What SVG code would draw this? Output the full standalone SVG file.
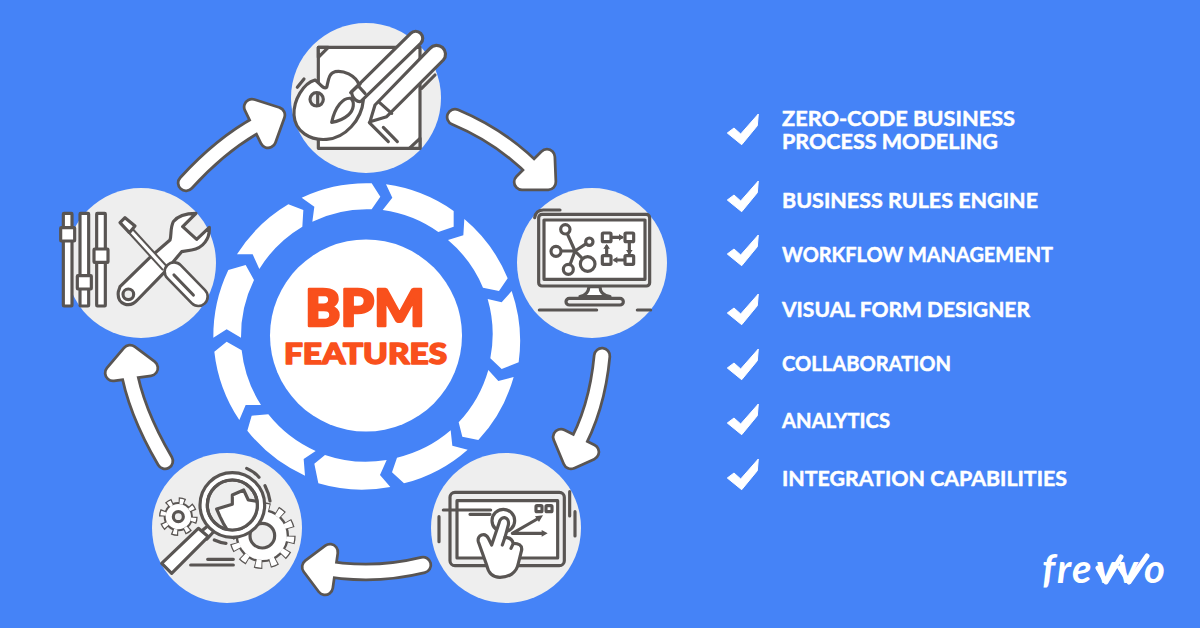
<svg xmlns="http://www.w3.org/2000/svg" xmlns:xlink="http://www.w3.org/1999/xlink" width="1200" height="628" viewBox="0 0 1200 628">
<style>
.disc{fill:#eeeeee}
.ln{stroke:#595553;stroke-width:9.5;stroke-linecap:round;stroke-linejoin:round;fill:none}
.w{fill:#fff}.g{fill:#eeeeee}.dk{fill:#595553;stroke:none}
.ao{stroke:#595553;stroke-width:18.5;stroke-linecap:round;stroke-linejoin:round}
.ai{stroke:#fff;stroke-width:13;stroke-linecap:round;stroke-linejoin:round}
.seg{fill:#fff}
.item{font-family:"Lato","Liberation Sans",sans-serif;font-weight:700;font-size:21px;fill:#fff;stroke:#fff;stroke-width:.5;stroke-linejoin:round}
.head{font-family:"Lato","Liberation Sans",sans-serif;font-weight:900;fill:#f9501c;stroke:#f9501c;stroke-linejoin:round}
</style>
<defs>
<polygon id="chk" points="727.3,19 734,14 740.7,20 758.3,0 757.3,11.7 741.7,30.7" fill="#fff" stroke="#fff" stroke-width="1" stroke-linejoin="round"/>
<g id="a1" fill="#fff"><path fill="none" d="M455 117 Q505 138 540 176"/><path d="M547 157 L548 182 L522 182 Z"/></g>
<g id="a2" fill="#fff"><path fill="none" d="M602 356 Q597 410 574 450"/><path d="M561 437 L571 461 L591 452 Z"/></g>
<g id="a3" fill="#fff"><path fill="none" d="M423 565 Q370 578 318 567"/><path d="M330 552 L310 567 L325 587 Z"/></g>
<g id="a4" fill="#fff"><path fill="none" d="M165 461 Q135 410 128 366"/><path d="M130 353 L113 373 L150 368 Z"/></g>
<g id="a5" fill="#fff"><path fill="none" d="M186 183 Q225 140 268 119"/><path d="M277 115 L252 107 L268 140 Z"/></g>
<clipPath id="lens"><circle cx="262" cy="180" r="75"/></clipPath>
</defs>
<rect width="1200" height="628" fill="#4583f7"/>

<g id="ring" transform="translate(205 175) scale(.33333)">
<path class="seg" d="M290 68A459 459 0 0 1 500 25L526 65L500 103A378 378 0 0 0 322 140L328 95Z"/>
<path class="seg" d="M543 28A459 459 0 0 1 746 108L746 155L700 171A378 378 0 0 0 533 105L562 68Z"/>
<path class="seg" d="M778 132A459 459 0 0 1 908 310L882 348L834 338A378 378 0 0 0 729 195L775 181Z"/>
<path class="seg" d="M920 348A459 459 0 0 1 941 562L890 582L856 550A378 378 0 0 0 848 372L890 382Z"/>
<path class="seg" d="M926 606A459 459 0 0 1 820 795L772 785L761 742A378 378 0 0 0 850 585L880 618Z"/>
<path class="seg" d="M788 824A459 459 0 0 1 597 925L561 892L576 848A378 378 0 0 0 737 766L742 812Z"/>
<path class="seg" d="M360 840A378 378 0 0 0 545 855L525 900L556 936A459 459 0 0 1 340 925L328 866Z"/>
<path class="seg" d="M300 902A459 459 0 0 1 127 767L140 722L190 718A378 378 0 0 0 332 828L296 852Z"/>
<path class="seg" d="M168 690L122 690L103 735A459 459 0 0 1 28 530L65 500L110 526A378 378 0 0 0 168 690Z"/>
<path class="seg" d="M25 488A459 459 0 0 1 70 285L122 270L147 315A378 378 0 0 0 108 488L65 463Z"/>
<path class="seg" d="M96 238A459 459 0 0 1 250 88L295 105L292 155A378 378 0 0 0 163 282L143 238Z"/>
</g>

<g id="center">
<circle cx="366" cy="335.5" r="96" fill="#fff"/>
<text class="head" x="305" y="326" font-size="51" stroke-width="2.5" textLength="120" lengthAdjust="spacingAndGlyphs">BPM</text>
<text class="head" x="284" y="364" font-size="28" stroke-width="1.5" textLength="163" lengthAdjust="spacingAndGlyphs">FEATURES</text>
</g>

<g id="connectors">
<use href="#a1" class="ao"/><use href="#a1" class="ai"/>
<use href="#a2" class="ao"/><use href="#a2" class="ai"/>
<use href="#a3" class="ao"/><use href="#a3" class="ai"/>
<use href="#a4" class="ao"/><use href="#a4" class="ai"/>
<use href="#a5" class="ao"/><use href="#a5" class="ai"/>
</g>

<g id="node-design">
<circle class="disc" cx="366" cy="98" r="75"/>
<g transform="translate(280 10) scale(.33333)">
<rect class="ln w" x="115" y="112" width="305" height="303"/>
<path class="ln g" d="M115 112H145L115 142ZM420 385V415H388Z"/>
<path class="ln w" d="M105 210C70 220 40 270 42 315C45 365 90 392 140 388C195 385 245 330 250 270L238 225C225 195 190 180 165 185C145 190 145 215 140 232C130 240 115 215 105 210Z"/>
<circle class="ln g" cx="110" cy="268" r="20"/><path class="ln" d="M113 250V286M52 232L72 207"/>
<path class="ln w" d="M392 70A20 20 0 0 1 422 100L245 272C235 280 215 265 215 245Z"/>
<path class="ln" d="M212 248L240 222M235 228L255 250"/>
<path class="ln w" d="M155 337C165 290 190 262 212 265C225 275 222 300 205 315C190 328 170 335 155 337Z"/>
<path class="ln w" d="M450 115A25 25 0 0 1 490 150L320 320L270 335L285 285Z"/>
<path class="ln" d="M298 277L335 310M268 338L325 395M310 352L352 395M425 235L465 195"/>
</g>
</g>

<g id="node-monitor">
<circle class="disc" cx="592" cy="263" r="75"/>
<g transform="translate(510 180) scale(.33333)">
<path class="ln" d="M74 113Q78 90 100 90H150M88 390H260M382 390H422"/>
<rect class="ln g" x="86" y="103" width="333" height="215" rx="10"/>
<rect class="ln w" x="102" y="120" width="303" height="178"/>
<path class="ln w" d="M237 320Q235 345 210 350H300Q270 345 270 320Z"/>
<rect class="ln g" x="168" y="355" width="172" height="20" rx="10"/>
<path class="ln" d="M195 213L166 148M195 213L238 185M195 213H138M195 213L175 268M195 213L233 252"/>
<circle class="ln w" cx="166" cy="148" r="14"/><circle class="ln w" cx="238" cy="185" r="11"/><circle class="ln w" cx="138" cy="214" r="15"/><circle class="ln w" cx="175" cy="268" r="15"/><circle class="ln w" cx="233" cy="252" r="22"/>
<rect class="ln w" x="277" y="159" width="26" height="26" rx="3"/><rect class="ln w" x="345" y="159" width="26" height="26" rx="3"/><rect class="ln w" x="345" y="227" width="26" height="26" rx="3"/><rect class="ln w" x="277" y="227" width="26" height="26" rx="3"/>
<path class="ln" d="M305 172H335M358 188V218M342 240H315M290 225V200"/>
<path class="dk" d="M327 162L341 172L327 182ZM348 210L358 224L368 210ZM322 230L308 240L322 250ZM280 206L290 192L300 206Z"/>
</g>
</g>

<g id="node-touch">
<circle class="disc" cx="506" cy="528" r="75"/>
<g transform="translate(425 450) scale(.33333)">
<rect class="ln g" x="75" y="127" width="343" height="220" rx="15"/>
<rect class="ln w" x="96" y="152" width="302" height="172"/>
<path class="ln" d="M55 180H197M135 193H195M42 200V275M434 125V198M450 185V258"/>
<rect class="ln w" x="333" y="167" width="18" height="18" rx="3"/><rect class="ln w" x="363" y="167" width="18" height="18" rx="3"/>
<circle class="ln w" cx="235" cy="212" r="34"/>
<path class="ln" d="M262 250L342 204M262 250H355"/>
<path class="dk" d="M354 196L330 199L342 216ZM368 250L350 240V260Z"/>
<path class="ln w" d="M222 220C225 195 255 198 250 225L240 262C255 262 262 270 265 280C280 280 292 285 290 300L280 340C275 370 250 382 225 382C205 382 190 370 185 345L160 275C155 255 180 245 190 265L200 285Z"/>
<path class="ln" d="M240 262L232 285M265 280L258 295"/>
</g>
</g>

<g id="node-search">
<circle class="disc" cx="227" cy="528" r="75"/>
<g transform="translate(145 445) scale(.33333)">
<circle cx="100" cy="215" r="50" fill="none" stroke="#595553" stroke-width="16" pathLength="8" stroke-dasharray=".5 .5"/>
<circle cx="100" cy="215" r="44" fill="#595553"/>
<circle cx="100" cy="215" r="46" fill="none" stroke="#fff" stroke-width="16" pathLength="8" stroke-dasharray=".32 .68" stroke-dashoffset="-.09"/>
<circle cx="100" cy="215" r="38" fill="#fff"/>
<circle class="ln g" cx="100" cy="215" r="15"/>
<circle cx="352" cy="272" r="88" fill="none" stroke="#595553" stroke-width="24" pathLength="12" stroke-dasharray=".5 .5"/>
<circle cx="352" cy="272" r="80" fill="#595553"/>
<circle cx="352" cy="272" r="84" fill="none" stroke="#fff" stroke-width="24" pathLength="12" stroke-dasharray=".38 .62" stroke-dashoffset="-.06"/>
<circle cx="352" cy="272" r="73" fill="#fff"/>
<circle class="ln g" cx="352" cy="272" r="37"/>
<path class="ln w" d="M165 262L192 240L208 258L186 282Z"/>
<path class="ln w" d="M50 355L160 250L190 275L80 385Z"/>
<circle class="ln w" cx="262" cy="180" r="97"/>
<circle class="ln g" cx="262" cy="180" r="75"/>
<g clip-path="url(#lens)"><path class="ln w" d="M215 192L262 178L262 150L296 135L310 165L345 170V260H250L235 235L225 215Z"/></g>
<circle class="ln" cx="262" cy="180" r="75"/>
<path class="ln" d="M305 70Q328 80 342 97M360 122Q372 145 375 168M208 285Q225 293 243 295M188 343H265M137 360H265"/>
</g>
</g>

<g id="node-tools">
<circle class="disc" cx="141" cy="263" r="75"/>
<g transform="translate(50 180) scale(.33333)">
<rect class="ln w" x="40" y="100" width="26" height="278" rx="2"/><rect class="ln w" x="90" y="100" width="26" height="278" rx="2"/><rect class="ln w" x="140" y="100" width="26" height="278" rx="2"/>
<rect class="ln w" x="32" y="143" width="42" height="40" rx="2"/><rect class="ln w" x="82" y="287" width="42" height="40" rx="2"/><rect class="ln w" x="132" y="207" width="42" height="40" rx="2"/>
<path class="ln w" d="M210 320L300 232L360 180C365 165 360 145 370 125C385 105 415 100 438 100L398 140L440 178L478 142C480 175 460 205 425 210L395 215L345 275L262 360C240 385 200 375 205 335Z"/>
<circle class="ln g" cx="235" cy="343" r="16"/>
<path d="M240 150L345 265" stroke="#595553" stroke-width="22" fill="none"/><path d="M240 150L345 265" stroke="#fff" stroke-width="10" fill="none"/>
<path class="ln w" d="M210 128L225 113L255 138L238 158Z"/>
<path d="M372 275L445 350" stroke="#595553" stroke-width="64" stroke-linecap="round"/><path d="M372 275L445 350" stroke="#fff" stroke-width="48" stroke-linecap="round"/>
<path class="ln" d="M372 285L430 345"/>
</g>
</g>

<g id="features">
<use href="#chk" y="114"/><text class="item" x="782" y="126" textLength="233" lengthAdjust="spacingAndGlyphs">ZERO-CODE BUSINESS</text>
<text class="item" x="782" y="149" textLength="216" lengthAdjust="spacingAndGlyphs">PROCESS MODELING</text>
<use href="#chk" y="181"/><text class="item" x="782" y="208" textLength="256" lengthAdjust="spacingAndGlyphs">BUSINESS RULES ENGINE</text>
<use href="#chk" y="235"/><text class="item" x="782" y="262" textLength="271" lengthAdjust="spacingAndGlyphs">WORKFLOW MANAGEMENT</text>
<use href="#chk" y="294"/><text class="item" x="782" y="317" textLength="248" lengthAdjust="spacingAndGlyphs">VISUAL FORM DESIGNER</text>
<use href="#chk" y="349"/><text class="item" x="782" y="371" textLength="169" lengthAdjust="spacingAndGlyphs">COLLABORATION</text>
<use href="#chk" y="404"/><text class="item" x="782" y="428" textLength="108" lengthAdjust="spacingAndGlyphs">ANALYTICS</text>
<use href="#chk" y="459"/><text class="item" x="782" y="486" textLength="285" lengthAdjust="spacingAndGlyphs">INTEGRATION CAPABILITIES</text>
</g>

<g id="logo">
<text x="1042 1057 1072 1096 1118 1144" y="583" font-family="Lato,'Open Sans',sans-serif" font-style="italic" font-weight="700" font-size="40" fill="#fff">frevvo</text>
<path d="M1098 568L1106 582L1121 557M1120 568L1129 582L1147 556" fill="none" stroke="#fff" stroke-width="5" stroke-linecap="round" stroke-linejoin="round"/>
</g>
</svg>
